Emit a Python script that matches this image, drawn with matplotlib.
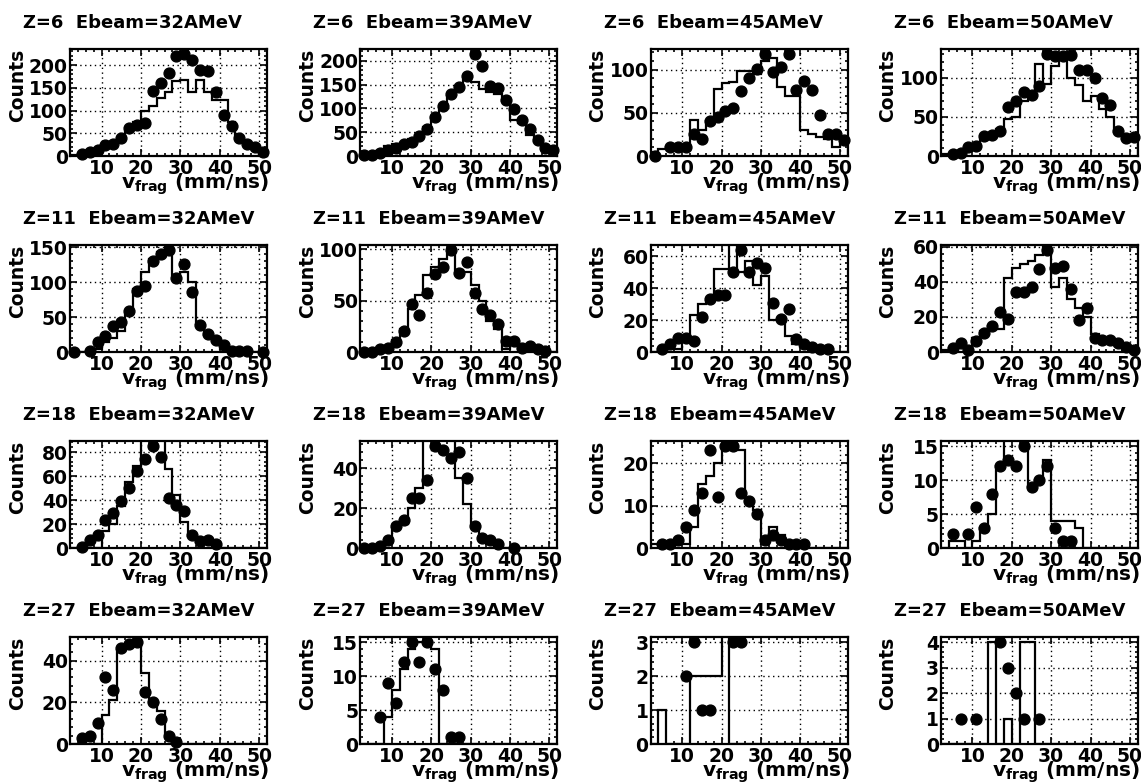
import numpy as np
import matplotlib
matplotlib.use("Agg")
import matplotlib.pyplot as plt
from matplotlib.ticker import MultipleLocator, AutoMinorLocator

plt.rcParams['font.family'] = ['DejaVu Sans']
plt.rcParams['font.weight'] = 'bold'
plt.rcParams['mathtext.default'] = 'bf'

nan = np.nan
# bins of 2 mm/ns from 2 to 52 (centres 3, 5, ..., 51)
edges = np.arange(2, 53, 2)
centres = edges[:-1] + 1

charges = [6, 11, 18, 27]
energies = [32, 39, 45, 50]

# measured counts (dots) and simulation (histogram), one pair per panel
data_z6_e32 = [nan, 5, 9, 14, 25, 27, 40, 62, 68, 72, 143, 160, 182, 219, 224, 212, 188, 186, 140, 90, 65, 40, 27, 20, 8]
sim_z6_e32 = [2, 4, 8, 13, 20, 26, 38, 55, 75, 100, 110, 128, 140, 165, 168, 140, 168, 140, 124, 124, 75, 45, 30, 20, 10]
data_z6_e39 = [3, 3, 7, 12, 17, 25, 30, 41, 56, 81, 104, 131, 144, 169, 214, 189, 147, 142, 117, 99, 75, 56, 34, 16, 12]
sim_z6_e39 = [4, 6, 10, 22, 25, 28, 35, 45, 60, 80, 100, 125, 145, 160, 155, 140, 135, 130, 115, 75, 70, 45, 30, 12, 10]
data_z6_e45 = [0, nan, 11, 10, 11, 26, 20, 40, 45, 52, 56, 75, 90, 101, 118, 97, 103, 118, 76, 87, 77, 48, 26, 26, 19]
sim_z6_e45 = [5, 8, 10, 10, 12, 42, 30, 40, 78, 84, 86, 98, 98, 95, 110, 113, 80, 70, 70, 30, 25, 22, 20, 10, 20]
data_z6_e50 = [nan, 2, 4, 12, 13, 25, 27, 32, 63, 70, 82, 78, 89, 130, 128, 128, 129, 110, 110, 100, 74, 65, 32, 23, 24]
sim_z6_e50 = [2, 3, 6, 10, 14, 22, 28, 35, 47, 50, 70, 80, 118, 92, 115, 125, 100, 90, 70, 76, 60, 50, 30, 22, 20]

data_z11_e32 = [0, nan, 1, 14, 23, 37, 43, 59, 87, 95, 130, 140, 146, 106, 126, 86, 39, 26, 17, 10, 2, 1, 1, nan, 0]
sim_z11_e32 = [0, 0, 0, 5, 14, 20, 30, 55, 90, 115, 133, 143, 150, 110, 115, 100, 40, 25, 15, 5, 0, 0, 0, 0, 0]
data_z11_e39 = [0, 0, 3, 4, 10, 20, 47, 36, 57, 76, 83, 99, 77, 87, 57, 42, 36, 27, 11, 11, 4, 6, 3, 1, nan]
sim_z11_e39 = [1, 1, 2, 5, 12, 22, 42, 55, 75, 83, 90, 95, 80, 78, 65, 50, 30, 22, 3, 8, 3, 5, 2, 2, 0]
data_z11_e45 = [nan, 2, 5, 9, 9, 7, 22, 33, 36, 36, 50, 64, 50, 56, 53, 31, 21, 27, 8, 5, 3, 2, 2, nan, nan]
sim_z11_e45 = [0, 2, 4, 2, 8, 23, 30, 32, 52, 52, 68, 50, 57, 42, 48, 20, 20, 10, 5, 3, 2, 1, 1, 0, 0]
data_z11_e50 = [nan, 2, 5, 1, 6, 11, 15, 23, 19, 34, 34, 37, 47, 58, 48, 49, 36, 18, 25, 8, 7, 7, 5, 3, 1]
sim_z11_e50 = [1, 2, 3, 2, 8, 12, 15, 13, 42, 48, 50, 52, 55, 60, 37, 42, 30, 25, 20, 10, 8, 6, 4, 2, 1]

data_z18_e32 = [nan, 1, 7, 11, 23, 29, 39, 50, 64, 74, 85, 76, 42, 36, 31, 11, 6, 7, 3, nan, nan, nan, nan, nan, nan]
sim_z18_e32 = [0, 0, 0, 0, 14, 20, 35, 55, 68, 92, 92, 92, 66, 44, 22, 10, 5, 5, 2, 0, 0, 0, 0, 0, 0]
data_z18_e39 = [0, 0, 1, 4, 11, 14, 25, 25, 34, 51, 49, 45, 48, 35, 11, 5, 4, 2, nan, 0, nan, nan, nan, nan, nan]
sim_z18_e39 = [0, 0, 0, 3, 10, 12, 20, 30, 55, 55, 55, 55, 35, 22, 12, 5, 2, 1, 0, 0, 0, 0, 0, 0, 0]
data_z18_e45 = [nan, 1, 1, 2, 5, 9, 13, 23, 12, 24, 24, 13, 11, 8, 2, 3, 2, 1, 1, 1, nan, nan, nan, nan, nan]
sim_z18_e45 = [1, 1, 1, 1, 1, 5, 15, 17, 20, 23, 23, 23, 11, 9, 1, 5, 3, 1, 0, 0, 0, 0, 0, 0, 0]
data_z18_e50 = [nan, 2, nan, 2, 6, 3, 8, 12, 13, 12, 15, 9, 10, 12, 3, 1, 1, nan, nan, nan, nan, nan, nan, nan, nan]
sim_z18_e50 = [0, 1, 1, 0, 1, 3, 5, 12, 16, 16, 16, 9, 10, 13, 4, 4, 4, 3, 0, 0, 0, 0, 0, 0, 0]

data_z27_e32 = [nan, 3, 4, 10, 32, 26, 46, 48, 49, 25, 20, 12, 4, 1, nan, nan, nan, nan, nan, nan, nan, nan, nan, nan, nan]
sim_z27_e32 = [0, 0, 0, 0, 14, 21, 45, 47, 50, 34, 20, 16, 5, 1, 0, 0, 0, 0, 0, 0, 0, 0, 0, 0, 0]
data_z27_e39 = [nan, nan, 4, 9, 6, 12, 15, 12, 15, 11, 8, 1, 1, nan, nan, nan, nan, nan, nan, nan, nan, nan, nan, nan, nan]
sim_z27_e39 = [0, 0, 0, 4, 8, 11, 14, 15, 15, 14, 0, 0, 0, 0, 0, 0, 0, 0, 0, 0, 0, 0, 0, 0, 0]
data_z27_e45 = [nan, nan, nan, nan, 2, 3, 1, 1, nan, nan, 3, 3, nan, nan, nan, nan, nan, nan, nan, nan, nan, nan, nan, nan, nan]
sim_z27_e45 = [0, 1, 0, 0, 0, 2, 2, 2, 2, 4, 0, 0, 0, 0, 0, 0, 0, 0, 0, 0, 0, 0, 0, 0, 0]
data_z27_e50 = [nan, nan, 1, nan, 1, nan, nan, 4, 3, 2, 1, nan, 1, nan, nan, nan, nan, nan, nan, nan, nan, nan, nan, nan, nan]
sim_z27_e50 = [0, 0, 0, 0, 0, 0, 4, 0, 1, 0, 4, 4, 0, 0, 0, 0, 0, 0, 0, 0, 0, 0, 0, 0, 0]

panels = {
    (6, 32): (data_z6_e32, sim_z6_e32), (6, 39): (data_z6_e39, sim_z6_e39),
    (6, 45): (data_z6_e45, sim_z6_e45), (6, 50): (data_z6_e50, sim_z6_e50),
    (11, 32): (data_z11_e32, sim_z11_e32), (11, 39): (data_z11_e39, sim_z11_e39),
    (11, 45): (data_z11_e45, sim_z11_e45), (11, 50): (data_z11_e50, sim_z11_e50),
    (18, 32): (data_z18_e32, sim_z18_e32), (18, 39): (data_z18_e39, sim_z18_e39),
    (18, 45): (data_z18_e45, sim_z18_e45), (18, 50): (data_z18_e50, sim_z18_e50),
    (27, 32): (data_z27_e32, sim_z27_e32), (27, 39): (data_z27_e39, sim_z27_e39),
    (27, 45): (data_z27_e45, sim_z27_e45), (27, 50): (data_z27_e50, sim_z27_e50),
}

# y tick spacing per row/column
ystep = [[50, 50, 50, 50], [50, 50, 20, 20], [20, 20, 10, 5], [20, 5, 1, 1]]

W, H = 1141, 784
fig = plt.figure(figsize=(W / 100, H / 100), dpi=100)

ax_w, ax_h = 197, 107
for r, z in enumerate(charges):
    for c, e in enumerate(energies):
        x0 = 70 + c * 290.3
        y0 = 49 + r * 196
        ax = fig.add_axes([x0 / W, 1 - (y0 + ax_h) / H, ax_w / W, ax_h / H])
        dots, sim = panels[(z, e)]
        dots = np.array(dots, dtype=float)

        ax.stairs(sim, edges, color='black', linewidth=1.6, zorder=2)
        ax.plot(centres, dots, 'o', color='black', markersize=7.8,
                linestyle='none', clip_on=False, zorder=3)

        ax.set_xlim(2, 52)
        ax.set_ylim(0, 1.05 * np.nanmax(dots))
        ax.xaxis.set_major_locator(MultipleLocator(10))
        ax.xaxis.set_minor_locator(MultipleLocator(2))
        ax.yaxis.set_major_locator(MultipleLocator(ystep[r][c]))
        ax.yaxis.set_minor_locator(AutoMinorLocator(5))
        ax.set_axisbelow(True)
        ax.grid(True, which='major', color='black', linestyle=(0, (1, 2.5)), linewidth=1)
        ax.tick_params(which='both', direction='in', top=True, right=True,
                       width=1.2, labelsize=13.5)
        ax.tick_params(which='major', length=5)
        ax.tick_params(which='minor', length=2.5)
        ax.tick_params(axis='x', pad=2.5)
        ax.tick_params(axis='y', pad=1.5)
        for s in ax.spines.values():
            s.set_linewidth(1.6)

        ax.set_ylabel('Counts', fontsize=13.5, fontweight='bold', loc='top')
        ax.yaxis.set_label_coords(-0.22, 1.0)
        ax.set_xlabel(r'$v_{frag}$ (mm/ns)', fontsize=14.5, fontweight='bold', loc='right')
        ax.xaxis.set_label_coords(1.01, -0.145)

        ax.text(-47 / ax_w, 1 + 21 / ax_h, f'Z={z}  Ebeam={e}AMeV',
                transform=ax.transAxes, fontsize=13, fontweight='bold',
                ha='left', va='baseline')

fig.savefig('out.png', dpi=100)
